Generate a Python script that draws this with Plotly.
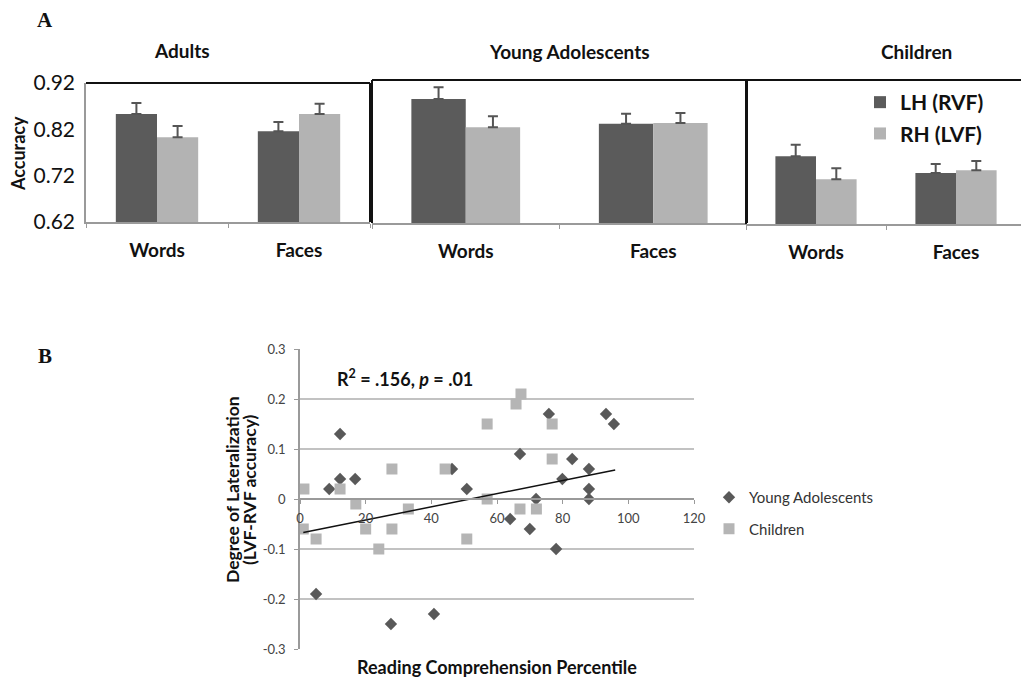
import plotly.graph_objects as go

W, H = 1021, 678

# ---------------- Panel A data ----------------
categories = ["Words", "Faces"]
adults_lh = [0.853, 0.816]
adults_rh = [0.803, 0.853]
adults_lh_err = [0.024, 0.020]
adults_rh_err = [0.024, 0.022]
young_lh = [0.880, 0.828]
young_rh = [0.821, 0.830]
young_lh_err = [0.025, 0.021]
young_rh_err = [0.023, 0.021]
child_lh = [0.761, 0.726]
child_rh = [0.713, 0.732]
child_lh_err = [0.024, 0.019]
child_rh_err = [0.023, 0.019]
acc_ticks = [0.62, 0.72, 0.82, 0.92]
acc_ticktext = ["0.62", "0.72", "0.82", "0.92"]
group_titles = ["Adults", "Young Adolescents", "Children"]
series_names = ["LH (RVF)", "RH (LVF)"]

# ---------------- Panel B data ----------------
ya_x = [4.9, 8.9, 12.2, 12.2, 16.8, 27.7, 40.8, 46.3, 50.8, 64, 67, 70, 71.9,
        75.8, 78, 79.9, 82.9, 88, 88, 88, 93.2, 95.6]
ya_y = [-0.19, 0.02, 0.13, 0.04, 0.04, -0.25, -0.23, 0.06, 0.02, -0.04, 0.09,
        -0.06, 0.0, 0.17, -0.10, 0.04, 0.08, 0.06, 0.02, 0.0, 0.17, 0.15]
ch_x = [1.2, 1.0, 4.9, 12.2, 17, 20, 24, 28, 28, 33, 44.2, 50.8, 57, 57,
        65.8, 67.3, 67, 72, 76.8, 76.8]
ch_y = [0.02, -0.06, -0.08, 0.02, -0.01, -0.06, -0.10, 0.06, -0.06, -0.02,
        0.06, -0.08, 0.15, 0.0, 0.19, 0.21, -0.02, -0.02, 0.15, 0.08]
trend_x = [1, 96]
trend_y = [-0.067, 0.058]
pct_ticks = [0, 20, 40, 60, 80, 100, 120]
lat_ticks = [-0.3, -0.2, -0.1, 0, 0.1, 0.2, 0.3]
lat_ticktext = ["-0.3", "-0.2", "-0.1", "0", "0.1", "0.2", "0.3"]


def fx(px):
    return px / W


def fy(py):
    return 1 - py / H


DARK = "#5b5b5b"
LIGHT = "#b3b3b3"
ERR = "#555555"
AXIS_GRAY = "#9a9a9a"
FONT = "Lato"

fig = go.Figure()

panels = [
    (adults_lh, adults_rh, adults_lh_err, adults_rh_err, "x", "y", False),
    (young_lh, young_rh, young_lh_err, young_rh_err, "x2", "y2", False),
    (child_lh, child_rh, child_lh_err, child_rh_err, "x3", "y3", True),
]
for lh, rh, lhe, rhe, xa, ya, show in panels:
    fig.add_trace(go.Bar(
        x=categories, y=lh, name=series_names[0], marker_color=DARK,
        marker_line_width=0, xaxis=xa, yaxis=ya, showlegend=show,
        legend="legend2", legendgroup="lh",
        error_y=dict(type="data", symmetric=False, array=lhe,
                     arrayminus=[0] * len(lhe), color=ERR, thickness=2, width=5),
    ))
    fig.add_trace(go.Bar(
        x=categories, y=rh, name=series_names[1], marker_color=LIGHT,
        marker_line_width=0, xaxis=xa, yaxis=ya, showlegend=show,
        legend="legend2", legendgroup="rh",
        error_y=dict(type="data", symmetric=False, array=rhe,
                     arrayminus=[0] * len(rhe), color=ERR, thickness=2, width=5),
    ))

# Panel B traces
fig.add_trace(go.Scatter(
    x=ya_x, y=ya_y, mode="markers", name="Young Adolescents",
    marker=dict(symbol="diamond", size=9.5, color="#595959"),
    xaxis="x4", yaxis="y4", legend="legend", legendgroup="ya",
))
fig.add_trace(go.Scatter(
    x=ch_x, y=ch_y, mode="markers", name="Children",
    marker=dict(symbol="square", size=11, color="#b5b5b5"),
    xaxis="x4", yaxis="y4", legend="legend", legendgroup="ch",
))
fig.add_trace(go.Scatter(
    x=trend_x, y=trend_y, mode="lines", line=dict(color="#111111", width=1.5),
    xaxis="x4", yaxis="y4", showlegend=False, hoverinfo="skip",
))

cat_font = dict(family=FONT, size=19, color="#111111", weight="bold")
ytick_font = dict(family=FONT, size=21, color="#111111")


def bar_xaxis(dom, anchor, rng):
    return dict(domain=dom, anchor=anchor, type="category", range=rng,
                showline=True, linecolor=AXIS_GRAY, linewidth=1.5,
                ticks="outside", ticklen=4, tickcolor=AXIS_GRAY,
                tickson="boundaries", tickfont=cat_font, ticklabelstandoff=10,
                showgrid=False, zeroline=False, fixedrange=True,
                automargin=False)


def bar_yaxis(dom, anchor, show_labels):
    return dict(domain=dom, anchor=anchor, range=[0.62, 0.92],
                tickvals=acc_ticks, ticktext=acc_ticktext,
                showticklabels=show_labels, tickfont=ytick_font,
                showline=show_labels, linecolor=AXIS_GRAY, linewidth=1.5,
                ticks="", ticklabelstandoff=5,
                showgrid=False, zeroline=False, fixedrange=True,
                automargin=False)


fig.update_layout(
    width=W, height=H, autosize=False,
    margin=dict(l=0, r=0, t=0, b=0, pad=0),
    paper_bgcolor="white", plot_bgcolor="white",
    barmode="group", bargap=0.42, bargroupgap=0,
    font=dict(family=FONT, color="#111111"),
    xaxis=bar_xaxis([fx(86), fx(370)], "y", [-0.5, 1.5]),
    yaxis=bar_yaxis([fy(222), fy(83)], "x", True),
    xaxis2=bar_xaxis([fx(372), fx(747)], "y2", [-0.5, 1.5]),
    yaxis2=bar_yaxis([fy(223), fy(80)], "x2", False),
    xaxis3=bar_xaxis([fx(746), 1.0], "y3", [-0.5, -0.5 + 275 / 140]),
    yaxis3=bar_yaxis([fy(224), fy(80)], "x3", False),
    xaxis4=dict(domain=[fx(300), fx(694)], range=[0, 120], tickvals=pct_ticks,
                anchor="free", position=(fy(649) + fy(349)) / 2,
                showline=True, linecolor=AXIS_GRAY, linewidth=1.5,
                ticks="outside", ticklen=4, tickcolor=AXIS_GRAY,
                tickfont=dict(family=FONT, size=13, color="#444444"),
                ticklabelstandoff=4, automargin=False,
                showgrid=False, zeroline=False, fixedrange=True),
    yaxis4=dict(domain=[fy(649), fy(349)], anchor="x4", range=[-0.3, 0.3],
                tickvals=lat_ticks, ticktext=lat_ticktext,
                showline=True, linecolor=AXIS_GRAY, linewidth=1.5,
                ticks="outside", ticklen=4, tickcolor=AXIS_GRAY,
                tickfont=dict(family=FONT, size=13, color="#444444"),
                ticklabelstandoff=6, automargin=False,
                showgrid=True, gridcolor="#c2c2c2", gridwidth=1.5,
                zeroline=False, fixedrange=True),
    legend=dict(x=fx(709), y=fy(481), xanchor="left", yanchor="top",
                font=dict(family=FONT, size=15, color="#333333"),
                bgcolor="rgba(0,0,0,0)", traceorder="grouped",
                tracegroupgap=9),
    legend2=dict(x=fx(860), y=fy(82), xanchor="left", yanchor="top",
                 font=dict(family=FONT, size=21, color="#111111",
                           weight="bold"),
                 bgcolor="rgba(0,0,0,0)", traceorder="grouped",
                 tracegroupgap=1),
    showlegend=True,
)

# Box borders of the three bar charts
border = dict(color="#111111", width=2)
shapes = [
    dict(type="line", xref="x domain", yref="y domain", x0=0, x1=1, y0=1, y1=1, line=border),
    dict(type="line", xref="x domain", yref="y domain", x0=1, x1=1, y0=0, y1=1, line=border),
    dict(type="line", xref="x2 domain", yref="y2 domain", x0=0, x1=0, y0=0, y1=1, line=border),
    dict(type="line", xref="x2 domain", yref="y2 domain", x0=0, x1=1, y0=1, y1=1, line=border),
    dict(type="line", xref="x2 domain", yref="y2 domain", x0=1, x1=1, y0=0, y1=1, line=border),
    dict(type="line", xref="x3 domain", yref="y3 domain", x0=0, x1=0, y0=0, y1=1, line=border),
    dict(type="line", xref="x3 domain", yref="y3 domain", x0=0, x1=1, y0=1, y1=1, line=border),
]
fig.update_layout(shapes=shapes)


def note(text, px, py, font, angle=0, xanchor="center"):
    return dict(text=text, x=fx(px), y=fy(py), xref="paper", yref="paper",
                xanchor=xanchor, yanchor="middle", textangle=angle,
                showarrow=False, font=font)


title_font = dict(family=FONT, size=19, color="#111111", weight="bold")
label_font = dict(family=FONT, size=17.5, color="#111111", weight="bold")
letter_font = dict(family="Liberation Serif", size=21, color="#111111", weight="bold")
annotations = [
    note("A", 45, 20, letter_font),
    note("B", 45, 356, letter_font),
    note(group_titles[0], 182, 50, title_font),
    note(group_titles[1], 569, 51, title_font),
    note(group_titles[2], 916, 51, title_font),
    note("Accuracy", 18, 154, dict(family=FONT, size=18, color="#111111", weight="bold"), -90),
    note("R<sup>2</sup> = .156, <i>p</i> = .01", 335, 378,
         dict(family=FONT, size=18, color="#111111", weight="bold"), 0, "left"),
    note("Degree of Lateralization", 232, 490, label_font, -90),
    note("(LVF-RVF accuracy)", 249, 490, label_font, -90),
    note("Reading Comprehension Percentile", 497, 667,
         dict(family=FONT, size=18, color="#111111", weight="bold")),
]
fig.update_layout(annotations=annotations)

fig.write_html("out.html", config={"displayModeBar": False},
               post_script="document.body.style.margin='0';document.body.style.overflow='hidden';")
